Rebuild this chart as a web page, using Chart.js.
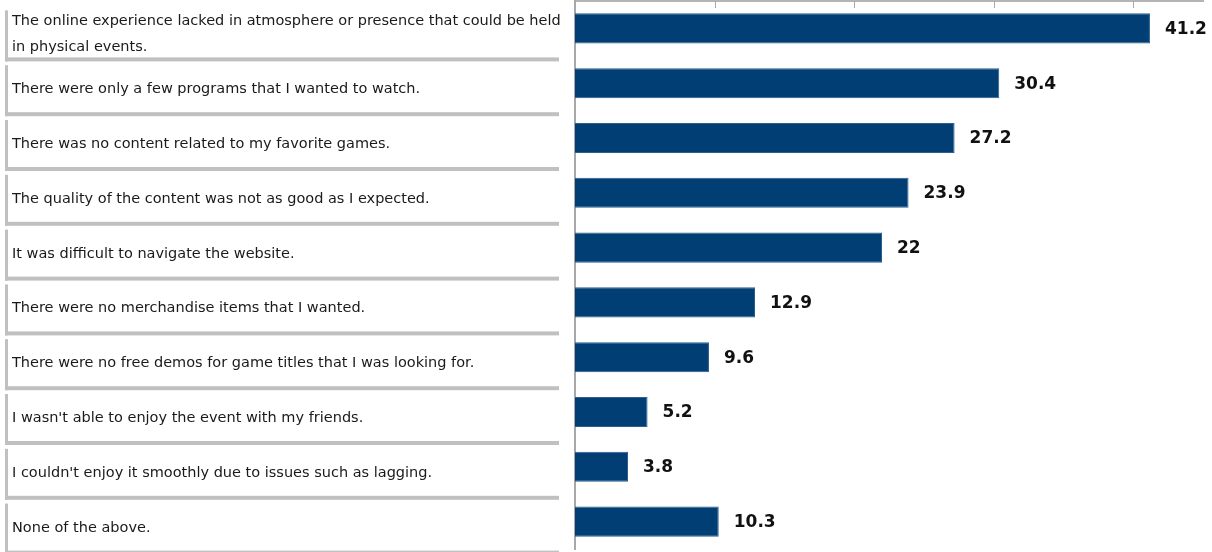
<!DOCTYPE html>
<html>
<head>
<meta charset="utf-8">
<script src="https://cdn.jsdelivr.net/npm/chart.js@4/dist/chart.umd.min.js"></script>
<style>
  html, body { margin: 0; padding: 0; background: #ffffff; }
  #wrap { width: 1212px; height: 552px; position: relative; }
</style>
</head>
<body>
<div id="wrap"><canvas id="chart"></canvas></div>
<script>
// Reasons respondents were dissatisfied with the online event (%)
const reasons = [
  ["The online experience lacked in atmosphere or presence that could be held", "in physical events."],
  ["There were only a few programs that I wanted to watch."],
  ["There was no content related to my favorite games."],
  ["The quality of the content was not as good as I expected."],
  ["It was difficult to navigate the website."],
  ["There were no merchandise items that I wanted."],
  ["There were no free demos for game titles that I was looking for."],
  ["I wasn't able to enjoy the event with my friends."],
  ["I couldn't enjoy it smoothly due to issues such as lagging."],
  ["None of the above."]
];
const shares = [41.2, 30.4, 27.2, 23.9, 22, 12.9, 9.6, 5.2, 3.8, 10.3];
const valueLabels = ["41.2", "30.4", "27.2", "23.9", "22", "12.9", "9.6", "5.2", "3.8", "10.3"];
const axisMax = 45;
const axisStep = 10;

const labelFont = '14.5px "DejaVu Sans", Verdana, sans-serif';
const valueFont = 'bold 17px "DejaVu Sans", Verdana, sans-serif';

// Row boxes with grey left/bottom rules and the category text, placed on the category scale
const rowLabels = {
  id: 'rowLabels',
  afterDraw(chart) {
    const ctx = chart.ctx;
    const y = chart.scales.y;
    ctx.save();
    reasons.forEach((lines, i) => {
      const c = y.getPixelForValue(i);
      const top = c - 18;
      const ruleTop = c + 29;
      ctx.fillStyle = '#c0c0c0';
      ctx.fillRect(5, top, 3, ruleTop + 4 - top);
      ctx.fillRect(5, ruleTop, 554, 4);
      ctx.fillStyle = '#1a1a1a';
      ctx.font = labelFont;
      ctx.textAlign = 'left';
      ctx.textBaseline = 'alphabetic';
      const lh = 26;
      const base = c + 10 - (lines.length - 1) * lh / 2;
      lines.forEach((t, k) => ctx.fillText(t, 12, base + k * lh));
    });
    ctx.restore();
  }
};

// Value text at the end of each bar, and short inward ticks along the top edge
const barValues = {
  id: 'barValues',
  afterDatasetsDraw(chart) {
    const ctx = chart.ctx;
    const meta = chart.getDatasetMeta(0);
    ctx.save();
    ctx.font = valueFont;
    ctx.fillStyle = '#111111';
    ctx.textAlign = 'left';
    ctx.textBaseline = 'middle';
    meta.data.forEach((bar, i) => {
      ctx.fillText(valueLabels[i], bar.x + 15, bar.y + 1);
    });
    const x = chart.scales.x;
    const area = chart.chartArea;
    ctx.strokeStyle = '#a8a8a8';
    ctx.lineWidth = 1;
    x.ticks.forEach(t => {
      if (t.value > 0 && t.value < axisMax) {
        const px = Math.round(x.getPixelForValue(t.value)) + 0.5;
        ctx.beginPath();
        ctx.moveTo(px, area.top);
        ctx.lineTo(px, area.top + 7);
        ctx.stroke();
      }
    });
    ctx.restore();
  }
};

new Chart(document.getElementById('chart'), {
  type: 'bar',
  data: {
    labels: reasons.map(l => l.join(' ')),
    datasets: [{
      data: shares,
      backgroundColor: '#003e74',
      borderColor: '#2a5f90',
      borderWidth: 1,
      borderSkipped: 'start',
      categoryPercentage: 1,
      barPercentage: 0.55
    }]
  },
  options: {
    indexAxis: 'y',
    responsive: true,
    maintainAspectRatio: false,
    animation: false,
    layout: { padding: { left: 575, right: 9, top: 1, bottom: 3 } },
    plugins: {
      legend: { display: false },
      tooltip: { enabled: false }
    },
    scales: {
      x: {
        position: 'top',
        min: 0,
        max: axisMax,
        ticks: { display: false, stepSize: axisStep },
        grid: { display: false, drawTicks: false },
        border: { display: true, color: '#b4b4b4', width: 2 }
      },
      y: {
        ticks: { display: false },
        grid: { display: false, drawTicks: false },
        border: { display: true, color: '#a8a8a8', width: 2 }
      }
    }
  },
  plugins: [rowLabels, barValues]
});
</script>
</body>
</html>
